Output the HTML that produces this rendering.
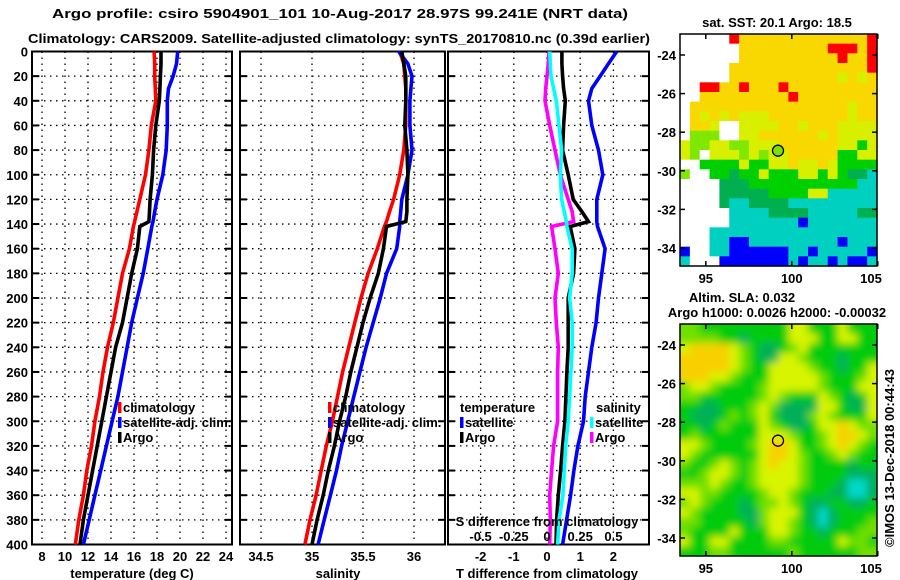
<!DOCTYPE html>
<html><head><meta charset="utf-8"><style>
body{margin:0;background:#fff}
svg{display:block}
text{font-family:"Liberation Sans",sans-serif;font-weight:bold;font-size:13px;fill:#000}
</style></head><body>
<svg id="s" width="900" height="580" viewBox="0 0 900 580" xmlns="http://www.w3.org/2000/svg">
<defs>
<filter id="bl" x="0" y="0" width="1" height="1"><feGaussianBlur stdDeviation="4"/></filter>
<clipPath id="cm2"><rect x="680" y="324" width="197" height="232"/></clipPath>
</defs>
<text x="340" y="18" text-anchor="middle" font-size="15" textLength="576" lengthAdjust="spacingAndGlyphs">Argo profile: csiro 5904901_101 10-Aug-2017 28.97S 99.241E (NRT data)</text>
<text x="339" y="43" text-anchor="middle" font-size="15" textLength="622" lengthAdjust="spacingAndGlyphs">Climatology: CARS2009. Satellite-adjusted climatology: synTS_20170810.nc (0.39d earlier)</text>
<g id="g"></g>
</svg>
<script>
const depths=[0,10,20,30,40,60,80,100,120,130,138,142,160,180,200,220,240,260,280,300,320,340,360,380,400];
const tempClim=[17.75,17.8,17.8,17.85,17.9,17.5,17.3,17.0,16.5,16.25,16.05,15.95,15.6,15.0,14.6,14.2,13.7,13.3,13.0,12.6,12.3,11.9,11.6,11.2,10.9];
const tempArgo=[18.35,18.35,18.3,18.25,18.2,17.9,17.7,17.6,17.4,17.35,17.3,16.5,16.3,15.8,15.4,15.0,14.4,14.0,13.6,13.2,12.8,12.4,12.0,11.6,11.3];
const tempSat=[19.8,19.7,19.4,19.0,18.9,18.9,18.8,18.5,18.0,17.8,17.65,17.55,17.2,16.8,16.3,15.8,15.4,15.0,14.6,14.1,13.6,13.1,12.6,12.1,11.6];
const salClim=[35.86,35.90,35.91,35.92,35.92,35.92,35.90,35.86,35.80,35.76,35.73,35.71,35.64,35.55,35.48,35.42,35.36,35.30,35.25,35.20,35.14,35.09,35.04,34.98,34.93];
const salArgo=[35.88,35.90,35.92,35.92,35.92,35.91,35.93,35.94,35.93,35.93,35.92,35.73,35.70,35.65,35.57,35.50,35.44,35.38,35.33,35.27,35.22,35.16,35.11,35.05,35.0];
const salSat=[35.85,35.94,35.98,35.97,35.96,35.96,35.98,35.94,35.88,35.87,35.86,35.86,35.83,35.73,35.67,35.60,35.53,35.47,35.41,35.35,35.29,35.24,35.18,35.12,35.06];
const tDiffSat=[2.1,1.85,1.6,1.35,1.25,1.35,1.55,1.68,1.5,1.5,1.5,1.52,1.75,1.65,1.55,1.48,1.35,1.25,1.15,1.1,0.93,0.81,0.71,0.59,0.47];
const tDiffArgo=[0.45,0.45,0.47,0.5,0.55,0.5,0.47,0.64,0.79,1.05,1.25,0.7,0.84,0.8,0.64,0.64,0.64,0.6,0.57,0.54,0.47,0.41,0.34,0.29,0.27];
const sDiffSat=[0.02,0.025,0.03,0.05,0.07,0.09,0.11,0.10,0.11,0.13,0.145,0.15,0.19,0.19,0.17,0.19,0.19,0.18,0.17,0.16,0.14,0.13,0.12,0.09,0.08];
const sDiffArgo=[0.015,0.01,0.0,-0.01,-0.015,0.02,0.06,0.10,0.16,0.19,0.20,0.035,0.06,0.085,0.06,0.07,0.085,0.08,0.08,0.08,0.05,0.035,0.02,0.025,0.02];
const depthTicks=[0,20,40,60,80,100,120,140,160,180,200,220,240,260,280,300,320,340,360,380,400];
const tempTicks=[8,10,12,14,16,18,20,22,24];
const salTicks=[34.5,35,35.5,36];
const tdTicks=[-2,-1,0,1,2];
const sdTicks=[-0.5,-0.25,0,0.25,0.5];
const sdTickLabels=["-0.5","-0.25","0","0.25","0.5"];
const sstGrid=[
"WWWWWRYYYYYYYYYYYYYR","WWWWWWYYYYYYYYYRRRYR","WWWWWWYYYYYYYYYYRYYR","WWWWWYYYYYYYYYYYYYYR",
"WWWWWYYYYYYYYYYYLYLY","WWRRYYRYYYRYYYYYYYYY","WWYYYYYYYYYRYYYYYYYY","WYYYYYYYYYYYYYYYYLYY",
"WYLYLYLLLYYYYYYYYLYY","WYYLWWLLLLYYLYYYLLLL","WGGGWWLLYYYYYYLYLLLL","LGGLLGGLLLYYYYYYLLgL",
"LGWLLLGLGLLYYYYYggLL","WWggggLggLLYLLYLgggg","GWWggdggLgggLLgLgddC","WWWWdddgggggggggggCC",
"WWWWdddddggggLLCCCCC","WWWWdCCddddCCCCCCCCC","WWWWWCCCCddddCCCCCdd","WWWWWCCCCCCCBCCCCCCC",
"WWWCCCCCCCCCCCCCCCCC","WWWCCBBCCCCCCCCCBCCC","BWWCCBBBBBBCCBCCCCCB","CWWWBBBBBBBCBCCBCBBC"];
const slaGrid=[
"GGggggggggglLggglggg","GGGGggdggggLLLggLLgg","LYYYYLGgddgGLggggggg","YYYYYLGgddLLGgggdggg",
"YYYYYLGggLLLLGggdggL","YYYLLGgggLLLLLGgggGL","GLLGggggGLLLLLGgggLL","GGggggggGLGgggLGgdgL",
"ggddgggGLGddddLLgddL","gdddgGgGLgdddGLGgggL","ggdgGgggLGgddgLLYLGG","gGggggggLLLGggGLYYLG",
"LLGggggGLYYLggGLYLGg","LGggggggLYYLGggGLGgg","GggGLGgGLYLLGggggdgg","ggGLLGgGLLLLGggggddd",
"GGGLGggGLLLLGgggdCCd","LLGGggggGLLGgggddCCd","GLGgggdgGGLGgddggddg","LGggggddGLLLgdCdgggg",
"GGgggggdGLLGgdCdgggG","GggggLgggLLGggdgggGG","LggLLggggGGgggggLGGg","gggGGggggggGggggggGGg"];
const sstCol={W:"#ffffff",Y:"#f8d800",L:"#d8f000",G:"#80e800",g:"#00d000",d:"#00b050",C:"#00d0c0",B:"#0000ff",R:"#ff0000"};
const slaCol={Y:"#f8d000",L:"#d8f400",l:"#d8f400",G:"#70e000",g:"#00cc10",d:"#00b058",C:"#00d8c8"};

const NS="http://www.w3.org/2000/svg", G=document.getElementById('g');
function mk(t,a,p){const e=document.createElementNS(NS,t);for(const k in a)e.setAttribute(k,a[k]);(p||G).appendChild(e);return e;}
const Y0=51.5,YK=1.2325,YB=Y0+400*YK;
const yS=d=>Y0+d*YK;
const panels=[
 {x0:32,x1:232,f:v=>42+(v-8)*11.5,ticks:tempTicks,labels:tempTicks.map(String),name:"temperature"},
 {x0:240,x1:445,f:v=>261+(v-34.5)*102,ticks:salTicks,labels:salTicks.map(String),name:"salinity"},
 {x0:448,x1:649,f:v=>547+v*33.2,ticks:tdTicks,labels:tdTicks.map(String),name:"difference"}];
const sX=v=>547+v*132.8;
panels.forEach((p,i)=>{
 const pg=mk('g',{});
 
 
 depthTicks.forEach(d=>{
  const y=yS(d);
  if(d>0&&d<400){const gl=mk('line',{x1:p.x0,x2:p.x1,y1:y,y2:y,stroke:'#000','stroke-width':1.3,'stroke-dasharray':'1.5 4.5'},pg);
   }
  mk('line',{x1:p.x0,x2:p.x0+7,y1:y,y2:y,stroke:'#000','stroke-width':2},pg);
  mk('line',{x1:p.x1-7,x2:p.x1,y1:y,y2:y,stroke:'#000','stroke-width':2},pg);
  if(i===0){const t=mk('text',{x:28,y:y+5,'text-anchor':'end'},pg);t.textContent=d;
   }
 });
 p.ticks.forEach((v,j)=>{
  const x=p.f(v);
  const gl=mk('line',{x1:x,x2:x,y1:Y0,y2:YB,stroke:'#000','stroke-width':1.3,'stroke-dasharray':'1.5 4.5'},pg);
  
  const t=mk('text',{x:x,y:561,'text-anchor':'middle'},pg);t.textContent=p.labels[j];
  
 });
 const fr=mk('rect',{x:p.x0,y:Y0,width:p.x1-p.x0,height:YB-Y0,fill:'none',stroke:'#000','stroke-width':2},pg);
 
});
function line(vals,f,col,name){
 const pts=vals.map((v,k)=>f(v).toFixed(1)+','+yS(depths[k]).toFixed(1)).join(' ');
 const e=mk('polyline',{points:pts,fill:'none',stroke:col,'stroke-width':3.6,'stroke-linejoin':'miter'});
 
 
}
line(tempClim,panels[0].f,'#ff0000','temp-climatology-line');
line(tempSat,panels[0].f,'#0000ff','temp-satellite-line');
line(tempArgo,panels[0].f,'#000000','temp-argo-line');
line(salClim,panels[1].f,'#ff0000','sal-climatology-line');
line(salSat,panels[1].f,'#0000ff','sal-satellite-line');
line(salArgo,panels[1].f,'#000000','sal-argo-line');
line(tDiffSat,panels[2].f,'#0000ff','tdiff-satellite-line');
line(sDiffArgo,sX,'#ff00ff','sdiff-argo-line');
line(tDiffArgo,panels[2].f,'#000000','tdiff-argo-line');
line(sDiffSat,sX,'#00ffff','sdiff-satellite-line');
function txt(x,y,s,name,anchor,extra){const t=mk('text',Object.assign({x:x,y:y,'text-anchor':anchor||'start'},extra||{}));t.textContent=s;
 return t;}
sdTicks.forEach((v,j)=>txt(sX(v),541,sdTickLabels[j],'s-tick-label','middle'));
txt(547,526,'S difference from climatology','s-axis-title','middle');
txt(132,578,'temperature (deg C)','temp-axis-title','middle');
txt(338,578,'salinity','sal-axis-title','middle');
txt(547,578,'T difference from climatology','tdiff-axis-title','middle');
function leg(x,y,col,s,name){const r=mk('rect',{x:x,y:y-10,width:3.5,height:11,fill:col});
 
 txt(x+5,y,s,name);}
leg(118,412,'#ff0000','climatology','legend-climatology');
leg(118,427,'#0000ff','satellite-adj. clim.','legend-satellite-adj');
leg(118,442,'#000000','Argo','legend-argo');
leg(328,412,'#ff0000','climatology','legend2-climatology');
leg(328,427,'#0000ff','satellite-adj. clim.','legend2-satellite-adj');
leg(328,442,'#000000','Argo','legend2-argo');
txt(460,412,'temperature','legend3-temperature-header');
leg(460,427,'#0000ff','satellite','legend3-t-satellite');
leg(460,442,'#000000','Argo','legend3-t-argo');
txt(596,412,'salinity','legend3-salinity-header');
leg(590,427,'#00ffff','satellite','legend3-s-satellite');
leg(590,442,'#ff00ff','Argo','legend3-s-argo');
function map(grid,cols,y0,name,blur){
 const X0=680,W=197,H=232,cw=W/20,ch=H/24;
 const mg=mk('g',{});
 
 
 const inner=mk('g',blur?{'clip-path':'url(#cm2)'}:{},mg);
 const cg=mk('g',blur?{filter:'url(#bl)'}:{},inner);
 if(blur) mk('rect',{x:X0-8,y:y0-8,width:W+16,height:H+16,fill:'#00cc10'},cg);
 grid.forEach((row,r)=>{for(let c=0;c<20;c++){const ch2=row[c]||'g';
  mk('rect',{x:(X0+c*cw-(blur&&c==0?8:0)).toFixed(2),y:(y0+r*ch-(blur&&r==0?8:0)).toFixed(2),width:(cw+0.6+(blur&&(c==0||c==19)?8:0)).toFixed(2),height:(ch+0.6+(blur&&(r==0||r==23)?8:0)).toFixed(2),fill:cols[ch2]},cg);}});
 mk('rect',{x:X0,y:y0,width:W,height:H,fill:'none',stroke:'#000','stroke-width':1.5},mg);
 const lon=v=>680+(v-93.5)*17.2, lat=v=>y0+21+(-24-v)*19.3;
 [95,100,105].forEach(v=>{const x=lon(v);mk('line',{x1:x,x2:x,y1:y0+H-5,y2:y0+H,stroke:'#000','stroke-width':1.5},mg);
  mk('line',{x1:x,x2:x,y1:y0,y2:y0+5,stroke:'#000','stroke-width':1.5},mg);
  const t=txt(v==105?871:x,y0+H+17,String(v),'map-lon-label','middle');mg.appendChild(t);});
 [-24,-26,-28,-30,-32,-34].forEach(v=>{const y=lat(v);mk('line',{x1:680,x2:685,y1:y,y2:y,stroke:'#000','stroke-width':1.5},mg);
  mk('line',{x1:872,x2:877,y1:y,y2:y,stroke:'#000','stroke-width':1.5},mg);
  const t=txt(676,y+5,String(v),'map-lat-label','end');mg.appendChild(t);});
 return {lon,lat};
}
const m1=map(sstGrid,sstCol,34,'sst-map',false);
const c1=mk('circle',{cx:778,cy:150.7,r:5.5,fill:'#80e000',stroke:'#000','stroke-width':1.3});

const m2=map(slaGrid,slaCol,324,'sla-map',true);
const c2=mk('circle',{cx:778,cy:440.7,r:5.5,fill:'none',stroke:'#000','stroke-width':1.3});

txt(777,27,'sat. SST: 20.1 Argo: 18.5','sst-map-title','middle');
txt(742,302,'Altim. SLA: 0.032','sla-map-title','middle');
txt(777,317,'Argo h1000: 0.0026 h2000: -0.00032','sla-map-subtitle','middle');
txt(0,0,'©IMOS 13-Dec-2018 00:44:43','imos-credit','middle',{transform:'translate(894,458) rotate(-90)','font-weight':'normal','font-size':'13'});
</script>
</body></html>
